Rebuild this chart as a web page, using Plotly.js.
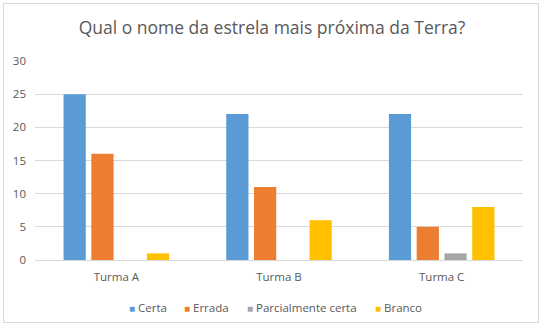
<!DOCTYPE html>
<html><head><meta charset="utf-8">
<script src="https://cdn.plot.ly/plotly-3.0.1.min.js"></script>
<style>body{margin:0;padding:0;background:#fff}#c{width:544px;height:327px;position:relative}#b{position:absolute;left:3px;top:3px;width:534px;height:318px;border:1px solid #d9d9d9;pointer-events:none}</style>
</head><body>
<div id="c"><div id="b"></div></div>
<script>
const categories = ["Turma A", "Turma B", "Turma C"];
const seriesNames = ["Certa", "Errada", "Parcialmente certa", "Branco"];
const certa = [25, 22, 22];
const errada = [16, 11, 5];
const parcial = [0, 0, 1];
const branco = [1, 6, 8];
const colors = ["#5B9BD5", "#ED7D31", "#A5A5A5", "#FFC000"];
const values = [certa, errada, parcial, branco];
const traces = values.map((v, i) => ({
  type: "bar", x: categories, y: v, name: seriesNames[i],
  marker: {color: colors[i]}, hoverinfo: "none"
}));
const L = 35, W = 488, T = 61, H = 199;
const legendPx = [127, 182, 245, 373];
const legendY = 307;
const annotations = seriesNames.map((n, i) => ({
  xref: "paper", yref: "paper",
  x: (legendPx[i] - L) / W, y: (T + H - legendY) / H,
  xanchor: "left", yanchor: "middle", showarrow: false,
  text: '<span style="color:' + colors[i] + ';font-size:10px">■</span> ' + n,
  font: {size: 11.5, color: "#595959"}
}));
const layout = {
  width: 544, height: 327,
  margin: {l: L, r: 544 - L - W, t: T, b: 327 - T - H},
  paper_bgcolor: "rgba(0,0,0,0)", plot_bgcolor: "#fff",
  font: {family: "Open Sans, sans-serif", color: "#595959", size: 11},
  title: {text: "Qual o nome da estrela mais próxima da Terra?", font: {size: 17.5, color: "#595959"}, x: 0.5, xanchor: "center", y: 0.915, yanchor: "middle"},
  barmode: "group", bargap: 0.317, bargroupgap: 0.2,
  xaxis: {showgrid: false, showline: true, linecolor: "#d9d9d9", ticks: "", tickfont: {size: 11.5, color: "#595959"}, ticklabelstandoff: 6, fixedrange: true},
  yaxis: {range: [0, 30], dtick: 5, showgrid: true, gridcolor: "#d9d9d9", zeroline: false, showline: false, ticks: "", tickfont: {size: 11.5, color: "#595959"}, ticklabelstandoff: 8, fixedrange: true},
  annotations: annotations,
  showlegend: false
};
Plotly.newPlot("c", traces, layout, {staticPlot: true, displayModeBar: false});
</script>
</body></html>
